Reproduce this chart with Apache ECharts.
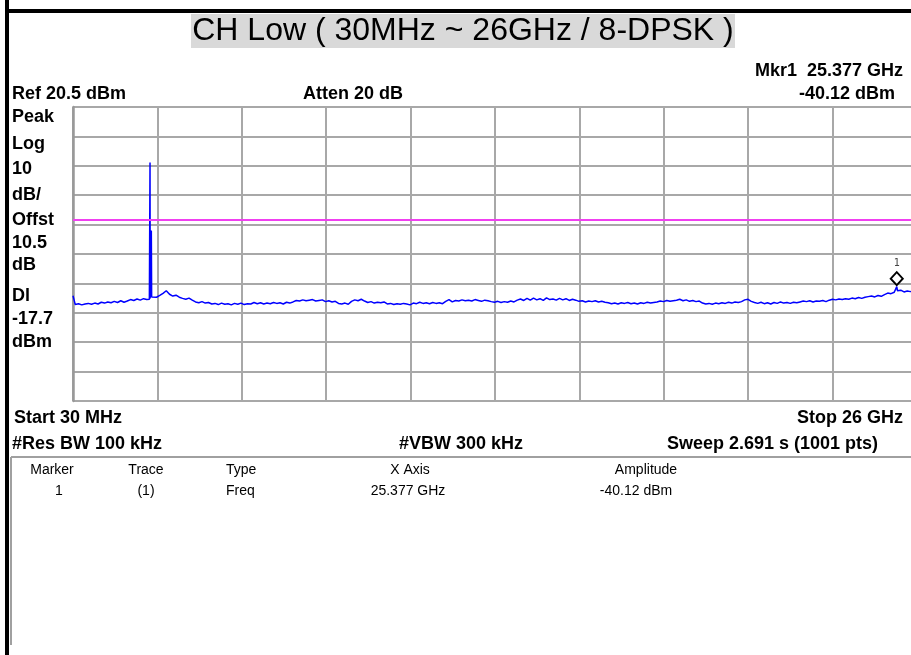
<!DOCTYPE html>
<html>
<head>
<meta charset="utf-8">
<script src="https://cdn.jsdelivr.net/npm/echarts@6/dist/echarts.min.js"></script>
<style>
html,body{margin:0;padding:0;background:#fff;}
#chart{width:911px;height:655px;}
</style>
</head>
<body>
<div id="chart"></div>
<script>
// ---- Data ----
const titleText = 'CH Low ( 30MHz ~ 26GHz / 8-DPSK )';
const startGHz = 0.03, stopGHz = 26.0;
const refLevel = 20.5, bottomLevel = -79.5, dbPerDiv = 10;
const displayLine = -17.7;
const markerFreq = 25.377, markerLevel = -40.6;

const freqGHz = [
 0.03,0.1,0.2,0.3,0.4,0.5,0.6,0.7,0.8,0.9,1.0,
 1.1,1.2,1.3,1.4,1.5,1.6,1.7,1.8,1.9,2.0,
 2.1,2.2,2.3,2.38,2.40,2.405,2.42,2.43,2.44,2.45,2.5,2.6,2.7,2.8,2.9,3.0,
 3.1,3.2,3.3,3.4,3.5,3.6,3.7,3.8,3.9,4.0,
 4.1,4.2,4.3,4.4,4.5,4.6,4.7,4.8,4.9,5.0,
 5.1,5.2,5.3,5.4,5.5,5.6,5.7,5.8,5.9,6.0,
 6.1,6.2,6.3,6.4,6.5,6.6,6.7,6.8,6.9,7.0,
 7.1,7.2,7.3,7.4,7.5,7.6,7.7,7.8,7.9,8.0,
 8.1,8.2,8.3,8.4,8.5,8.6,8.7,8.8,8.9,9.0,
 9.1,9.2,9.3,9.4,9.5,9.6,9.7,9.8,9.9,10.0,
 10.1,10.2,10.3,10.4,10.5,10.6,10.7,10.8,10.9,11.0,
 11.1,11.2,11.3,11.4,11.5,11.6,11.7,11.8,11.9,12.0,
 12.1,12.2,12.3,12.4,12.5,12.6,12.7,12.8,12.9,13.0,
 13.1,13.2,13.3,13.4,13.5,13.6,13.7,13.8,13.9,14.0,
 14.1,14.2,14.3,14.4,14.5,14.6,14.7,14.8,14.9,15.0,
 15.1,15.2,15.3,15.4,15.5,15.6,15.7,15.8,15.9,16.0,
 16.1,16.2,16.3,16.4,16.5,16.6,16.7,16.8,16.9,17.0,
 17.1,17.2,17.3,17.4,17.5,17.6,17.7,17.8,17.9,18.0,
 18.1,18.2,18.3,18.4,18.5,18.6,18.7,18.8,18.9,19.0,
 19.1,19.2,19.3,19.4,19.5,19.6,19.7,19.8,19.9,20.0,
 20.1,20.2,20.3,20.4,20.5,20.6,20.7,20.8,20.9,21.0,
 21.1,21.2,21.3,21.4,21.5,21.6,21.7,21.8,21.9,22.0,
 22.1,22.2,22.3,22.4,22.5,22.6,22.7,22.8,22.9,23.0,
 23.1,23.2,23.3,23.4,23.5,23.6,23.7,23.8,23.9,24.0,
 24.1,24.2,24.3,24.4,24.5,24.6,24.7,24.8,24.9,25.0,
 25.1,25.2,25.3,25.377,25.4,25.5,25.6,25.7,25.8,25.9,26.0
];
const levelDbm = [
 -43.7,-46.7,-46.4,-46.8,-46.5,-46.3,-46.6,-46.2,-46.5,-45.9,-46.2,
 -45.8,-46.1,-45.6,-46.0,-45.4,-45.9,-45.5,-45.0,-45.3,-44.8,
 -45.2,-44.7,-45.0,-44.9,1.6,-44.6,-21.4,-44.2,-21.6,-44.1,-43.9,-44.2,-43.6,-42.9,-42.0,-43.2,
 -43.8,-43.5,-44.2,-44.6,-44.9,-44.5,-45.2,-45.8,-46.1,-45.7,
 -46.2,-46.0,-46.5,-46.3,-46.7,-46.2,-46.6,-46.4,-46.8,-46.3,
 -46.6,-46.2,-46.7,-46.4,-46.5,-46.0,-46.4,-46.1,-46.5,-46.2,
 -46.4,-46.0,-46.3,-46.1,-46.5,-45.9,-46.2,-45.8,-45.3,-45.5,
 -45.1,-45.4,-45.2,-45.0,-45.5,-45.3,-45.1,-45.7,-45.4,-45.8,
 -45.6,-46.3,-46.5,-46.2,-46.6,-45.6,-45.1,-45.4,-44.9,-45.5,
 -46.0,-45.7,-46.2,-45.9,-46.1,-45.8,-46.5,-46.3,-46.7,-46.4,
 -46.6,-46.3,-46.5,-46.8,-46.2,-46.4,-45.9,-46.3,-46.1,-46.4,
 -46.0,-46.3,-46.1,-46.4,-45.6,-45.0,-45.8,-45.3,-45.5,-45.1,
 -45.4,-45.2,-45.5,-45.0,-45.3,-45.6,-45.2,-45.4,-45.7,-45.9,
 -45.6,-46.0,-45.7,-45.9,-45.5,-45.8,-45.2,-44.8,-45.3,-44.6,
 -45.2,-44.5,-45.1,-44.7,-45.3,-44.4,-45.0,-44.8,-45.2,-44.6,
 -45.1,-44.7,-45.3,-44.9,-45.2,-45.6,-45.4,-45.8,-45.5,-45.7,
 -45.4,-45.8,-45.6,-45.9,-46.1,-46.4,-46.2,-46.5,-46.1,-46.3,
 -46.0,-46.4,-46.2,-46.5,-46.1,-46.3,-45.9,-46.2,-46.0,-45.8,
 -45.5,-45.7,-45.3,-45.6,-45.4,-45.2,-44.9,-45.4,-45.1,-45.6,
 -45.3,-45.7,-45.5,-46.2,-46.5,-46.3,-46.6,-46.2,-46.4,-46.1,
 -46.3,-45.9,-46.2,-45.8,-46.0,-45.7,-45.1,-44.9,-45.6,-46.0,
 -46.3,-45.9,-46.4,-46.1,-46.5,-46.0,-46.3,-45.8,-46.2,-46.0,
 -46.3,-45.9,-46.1,-45.8,-45.5,-45.7,-45.4,-45.8,-45.5,-45.6,
 -45.3,-45.7,-45.2,-44.9,-45.1,-44.8,-45.0,-44.7,-44.9,-44.5,
 -44.7,-44.3,-44.6,-44.2,-44.0,-43.8,-44.1,-43.6,-43.9,-43.3,
 -42.8,-43.0,-42.5,-40.6,-42.0,-41.8,-42.4,-42.1,-42.3,-42.0,-42.4
];

const topTexts = [
  {t:'Mkr1  25.377 GHz', x:903, y:71, a:'right'},
  {t:'Ref 20.5 dBm', x:12, y:94, a:'left'},
  {t:'Atten 20 dB', x:303, y:94, a:'left'},
  {t:'-40.12 dBm', x:895, y:94, a:'right'}
];
const sideLabels = ['Peak','Log','10','dB/','Offst','10.5','dB','Dl','-17.7','dBm'];
const sideLabelY = [117,144,169,195,220,243,265,296,319,342];
const bottomTexts = [
  {t:'Start 30 MHz', x:14, y:418, a:'left'},
  {t:'Stop 26 GHz', x:903, y:418, a:'right'},
  {t:'#Res BW 100 kHz', x:12, y:444, a:'left'},
  {t:'#VBW 300 kHz', x:461, y:444, a:'center'},
  {t:'Sweep 2.691 s (1001 pts)', x:878, y:444, a:'right'}
];
const tableHeader = ['Marker','Trace','Type','X Axis','Amplitude'];
const tableRow = ['1','(1)','Freq','25.377 GHz','-40.12 dBm'];
const tableColX = [52,146,226,410,646];
const tableRowX = [59,146,226,408,636];
const tableAlign = ['center','center','left','center','center'];

// ---- Layout: plot area is 844 px wide for the full span, but only 838 px are on the canvas ----
const plotLeft = 73, plotTop = 107, plotFullWidth = 844, plotHeight = 294;
const visibleWidth = 911 - plotLeft;
const visibleStop = startGHz + (stopGHz - startGHz) * visibleWidth / plotFullWidth;

const boldFont = 'bold 18px "Liberation Sans", Arial, sans-serif';
const smallFont = '14px "Liberation Sans", Arial, sans-serif';
const graphics = [];
graphics.push({type:'rect', shape:{x:5,y:0,width:4,height:655}, style:{fill:'#000'}, z:10});
graphics.push({type:'rect', shape:{x:5,y:9,width:906,height:4}, style:{fill:'#000'}, z:10});
graphics.push({type:'rect', shape:{x:191,y:14,width:544,height:34}, style:{fill:'#d9d9d9'}});
graphics.push({type:'text', x:463, y:31, style:{text:titleText, font:'32px "Liberation Sans", Arial, sans-serif', fill:'#000', align:'center', verticalAlign:'middle'}});
topTexts.concat(bottomTexts).forEach(o=>{
  graphics.push({type:'text', x:o.x, y:o.y, style:{text:o.t, font:boldFont, fill:'#000', align:o.a, verticalAlign:'middle'}});
});
sideLabels.forEach((s,i)=>{
  graphics.push({type:'text', x:12, y:sideLabelY[i], style:{text:s, font:boldFont, fill:'#000', align:'left', verticalAlign:'middle'}});
});
graphics.push({type:'line', shape:{x1:11,y1:457,x2:911,y2:457}, style:{stroke:'#a0a0a0', lineWidth:2}});
graphics.push({type:'line', shape:{x1:11,y1:457,x2:11,y2:645}, style:{stroke:'#a0a0a0', lineWidth:2}});
tableHeader.forEach((s,i)=>{
  graphics.push({type:'text', x:tableColX[i], y:470, style:{text:s, font:smallFont, fill:'#000', align:tableAlign[i], verticalAlign:'middle'}});
  graphics.push({type:'text', x:tableRowX[i], y:491, style:{text:tableRow[i], font:smallFont, fill:'#000', align:tableAlign[i], verticalAlign:'middle'}});
});

const traceData = freqGHz.map((f,i)=>[f, levelDbm[i]]);

const chart = echarts.init(document.getElementById('chart'), null, {renderer:'canvas'});
chart.setOption({
  animation:false,
  backgroundColor:'#fff',
  grid:{left:plotLeft, top:plotTop, width:visibleWidth, height:plotHeight, show:false},
  xAxis:{type:'value', min:startGHz, max:visibleStop, interval:(stopGHz-startGHz)/10,
    axisLabel:{show:false}, axisTick:{show:false}, axisLine:{show:false},
    splitLine:{show:true, showMaxLine:false, lineStyle:{color:'#a8a8a8', width:2}}},
  yAxis:{type:'value', min:bottomLevel, max:refLevel, interval:dbPerDiv,
    axisLabel:{show:false}, axisTick:{show:false},
    axisLine:{show:true, lineStyle:{color:'#999', width:2.5}},
    splitLine:{show:true, lineStyle:{color:'#a8a8a8', width:2}}},
  series:[{
    type:'line', data:traceData, showSymbol:false, symbol:'none',
    lineStyle:{color:'#0000ff', width:1.5}, itemStyle:{color:'#0000ff'},
    markLine:{silent:true, symbol:'none', label:{show:false},
      lineStyle:{color:'#f040f0', width:2, type:'solid'},
      data:[{yAxis:displayLine}]},
    markPoint:{silent:true,
      data:[{coord:[markerFreq, markerLevel]}],
      symbol:'diamond', symbolSize:[12,13], symbolOffset:[0,-8],
      itemStyle:{color:'#fff', borderColor:'#000', borderWidth:2},
      label:{show:true, position:'top', distance:3, formatter:'1', color:'#444', fontSize:10, fontFamily:'"DejaVu Sans Mono", monospace'}}
  }],
  graphic:graphics
});
</script>
</body>
</html>
